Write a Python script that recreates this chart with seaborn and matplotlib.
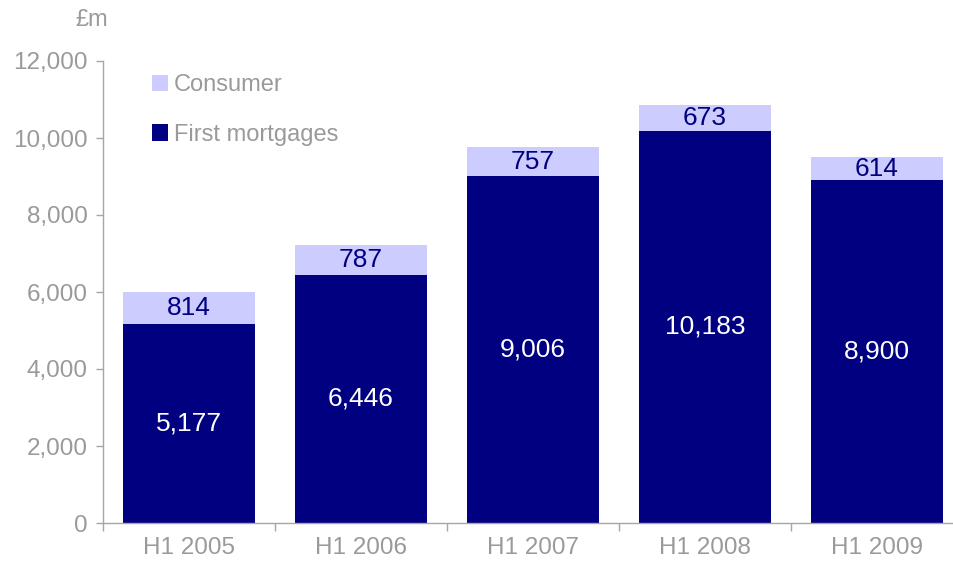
import matplotlib
matplotlib.use("Agg")
import matplotlib.pyplot as plt
import seaborn as sns
import pandas as pd
from matplotlib.patches import Patch

periods = ["H1 2005", "H1 2006", "H1 2007", "H1 2008", "H1 2009"]
first_mortgages = [5177, 6446, 9006, 10183, 8900]
consumer = [814, 787, 757, 673, 614]
y_ticks = [0, 2000, 4000, 6000, 8000, 10000, 12000]

NAVY = "#000080"
LILAC = "#CCCCFF"
GREY = "#9A9A9A"
AXIS = "#A6A6A6"

sns.set_theme(style="white")
plt.rcParams["font.family"] = ["Liberation Sans", "DejaVu Sans"]

df = pd.DataFrame({
    "period": periods,
    "first": first_mortgages,
    "consumer": consumer,
})
df["total"] = df["first"] + df["consumer"]

fig = plt.figure(figsize=(9.54, 5.71), dpi=100)
ax = fig.add_axes([103 / 954, 48 / 571, 860 / 954, 462 / 571])

sns.barplot(data=df, x="period", y="total", color=LILAC, width=0.77,
            saturation=1, linewidth=0, ax=ax)
sns.barplot(data=df, x="period", y="first", color=NAVY, width=0.77,
            saturation=1, linewidth=0, ax=ax)

for i, (f, c) in enumerate(zip(first_mortgages, consumer)):
    ax.text(i, f / 2, f"{f:,}", ha="center", va="center",
            color="white", fontsize=19)
    ax.text(i, f + c / 2, f"{c:,}", ha="center", va="center",
            color=NAVY, fontsize=19)

ax.set_ylim(0, 12000)
ax.set_xlim(-0.5, len(periods) - 0.5)
ax.set_yticks(y_ticks)
ax.set_yticklabels([f"{v:,}" for v in y_ticks])
ax.set_xlabel("")
ax.set_ylabel("")

for side in ["top", "right"]:
    ax.spines[side].set_visible(False)
for side in ["left", "bottom"]:
    ax.spines[side].set_color(AXIS)
    ax.spines[side].set_linewidth(1.0)

ax.tick_params(axis="y", which="both", direction="out", length=5,
               width=1, color=AXIS, labelcolor=GREY, labelsize=17.5, pad=6,
               left=True)
# category ticks sit at the boundaries between bars
ax.set_xticks([i - 0.5 for i in range(len(periods) + 1)], minor=False)
ax.set_xticklabels([""] * (len(periods) + 1))
ax.set_xticks(list(range(len(periods))), minor=True)
ax.set_xticklabels(periods, minor=True)
ax.tick_params(axis="x", which="major", direction="out", length=6,
               width=1, color=AXIS, bottom=True)
ax.tick_params(axis="x", which="minor", length=0, labelcolor=GREY,
               labelsize=17.5, pad=10, bottom=True)

fig.text(75 / 954, 1 - 20 / 571, "£m", color=GREY, fontsize=17,
         ha="left", va="center")

handles = [Patch(facecolor=LILAC, edgecolor="none", label="Consumer"),
           Patch(facecolor=NAVY, edgecolor="none", label="First mortgages")]
ax.legend(handles=handles, loc="upper left",
          bbox_to_anchor=(40 / 860, 1 - 4 / 462), frameon=False,
          fontsize=17, labelcolor=GREY, handlelength=0.65, handleheight=0.7,
          handletextpad=0.25, labelspacing=1.15, borderaxespad=0)

fig.savefig("out.png", dpi=100)
